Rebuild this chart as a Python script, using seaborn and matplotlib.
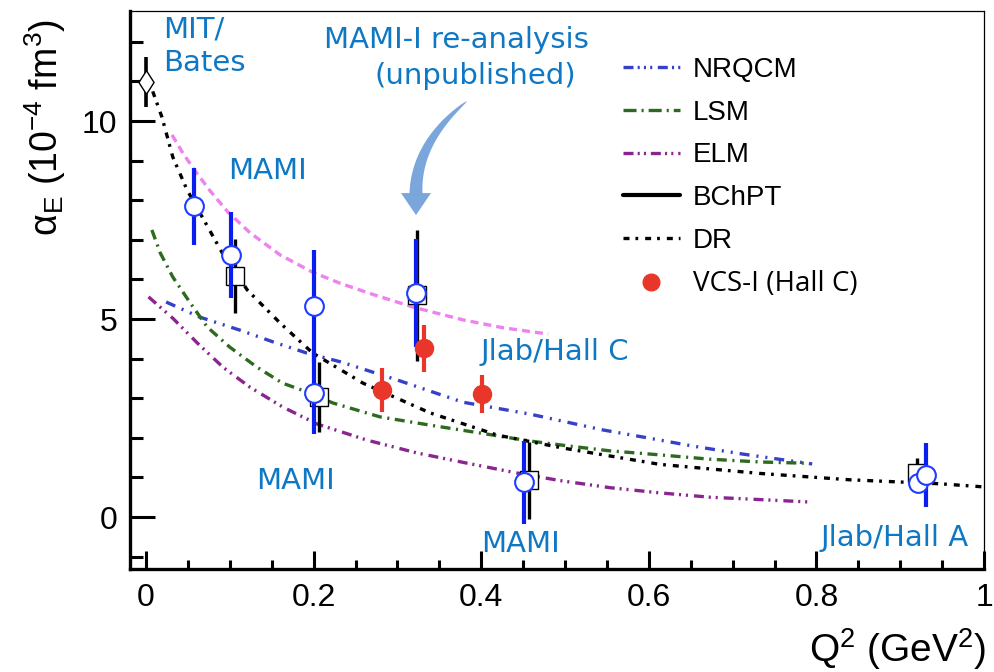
import matplotlib
matplotlib.use("Agg")
import numpy as np
import matplotlib.pyplot as plt
from matplotlib.lines import Line2D
from matplotlib.patches import Polygon
from matplotlib.ticker import MultipleLocator, FixedLocator, FixedFormatter
import seaborn as sns

# ---------------- data ----------------
# theory curves (Q^2 in GeV^2, alpha_E in 1e-4 fm^3)
nrqcm_q2 = [0.024, 0.064, 0.112, 0.152, 0.192, 0.232, 0.300, 0.378, 0.458, 0.545, 0.593, 0.653, 0.712, 0.772, 0.795]
nrqcm_a = [5.43, 5.05, 4.72, 4.42, 4.14, 3.92, 3.46, 2.90, 2.60, 2.20, 2.02, 1.79, 1.59, 1.41, 1.34]

lsm_q2 = [0.007, 0.017, 0.032, 0.053, 0.073, 0.100, 0.132, 0.163, 0.192, 0.223, 0.279, 0.339, 0.399, 0.458, 0.502, 0.554, 0.613, 0.673, 0.733, 0.785]
lsm_a = [7.25, 6.67, 6.06, 5.40, 4.80, 4.29, 3.79, 3.38, 3.16, 2.88, 2.53, 2.32, 2.12, 1.92, 1.80, 1.67, 1.57, 1.46, 1.39, 1.36]

elm_q2 = [0.003, 0.032, 0.061, 0.092, 0.124, 0.163, 0.204, 0.264, 0.323, 0.383, 0.443, 0.494, 0.554, 0.613, 0.673, 0.733, 0.791]
elm_a = [5.56, 5.02, 4.40, 3.78, 3.28, 2.78, 2.35, 1.94, 1.62, 1.36, 1.11, 0.92, 0.74, 0.61, 0.50, 0.44, 0.38]

dr_q2 = [0.008, 0.019, 0.032, 0.049, 0.067, 0.091, 0.121, 0.160, 0.199, 0.259, 0.339, 0.419, 0.498, 0.613, 0.733, 0.840, 0.947, 1.0]
dr_a = [10.75, 10.10, 9.09, 8.26, 7.58, 6.67, 5.73, 4.90, 4.14, 3.38, 2.63, 2.07, 1.74, 1.33, 1.10, 0.94, 0.84, 0.76]

pink_q2 = [0.031, 0.044, 0.058, 0.076, 0.097, 0.124, 0.160, 0.199, 0.232, 0.271, 0.319, 0.378, 0.426, 0.480]
pink_a = [9.65, 9.19, 8.76, 8.25, 7.72, 7.18, 6.62, 6.18, 5.90, 5.62, 5.30, 4.98, 4.78, 4.62]

# data points
rcs_q2 = [0.0]
rcs_a = [10.98]
rcs_err = [0.63]

mami_sq_q2 = [0.106, 0.206, 0.323, 0.457, 0.920]
mami_sq_a = [6.08, 3.03, 5.60, 0.93, 1.11]
mami_sq_err = [0.94, 0.88, 1.65, 0.97, 0.38]

circ_q2 = [0.057, 0.101, 0.200, 0.200, 0.322, 0.451, 0.921, 0.931]
circ_a = [7.85, 6.62, 5.33, 3.13, 5.65, 0.88, 0.86, 1.06]
circ_err = [0.97, 1.08, 1.41, 1.03, 1.36, 1.05, 0.0, 0.80]

vcs_q2 = [0.282, 0.332, 0.401]
vcs_a = [3.21, 4.26, 3.11]
vcs_err = [0.55, 0.60, 0.48]

legend_labels = ["NRQCM", "LSM", "ELM", "BChPT", "DR", "VCS-I (Hall C)"]
xtick_vals = [0, 0.2, 0.4, 0.6, 0.8, 1.0]
xtick_labels = ["0", "0.2", "0.4", "0.6", "0.8", "1"]
ytick_vals = [0, 5, 10]
ytick_labels = ["0", "5", "10"]

# ---------------- style ----------------
sns.set_style("ticks")
SANS = ["Liberation Sans", "DejaVu Sans"]
plt.rcParams["font.family"] = SANS
plt.rcParams["mathtext.default"] = "regular"
plt.rcParams["lines.scale_dashes"] = False
plt.rcParams["text.color"] = "black"

C_NRQCM = "#3640c8"
C_LSM = "#2e6a1e"
C_ELM = "#8a2590"
C_PINK = "#ee82ee"
C_RED = "#e8372a"
C_BLUEPT = "#0a1ef0"
C_ANN = "#0f78c4"

LS_NRQCM = (0, (7.2, 5.0, 1.5, 5.0, 1.5, 5.0))
LS_LSM = (0, (7.2, 4.0, 1.5, 4.0))
LS_ELM = (0, (7.2, 3.5, 1.5, 3.5, 1.5, 4.3))
LS_DR = (0, (4.3, 4.3, 2.0, 5.0))
LS_PINK = (0, (5.8, 3.6))
LW = 2.4

W, H = 994, 672
fig = plt.figure(figsize=(W / 100, H / 100), dpi=100)
ax = fig.add_axes([130 / W, 1 - 569 / H, (984 - 130) / W, (569 - 11) / H])

# ---------------- curves ----------------
sns.lineplot(x=pink_q2, y=pink_a, ax=ax, color=C_PINK, lw=LW, linestyle=LS_PINK, sort=False, estimator=None)
sns.lineplot(x=nrqcm_q2, y=nrqcm_a, ax=ax, color=C_NRQCM, lw=LW, linestyle=LS_NRQCM, sort=False, estimator=None)
sns.lineplot(x=lsm_q2, y=lsm_a, ax=ax, color=C_LSM, lw=LW, linestyle=LS_LSM, sort=False, estimator=None)
sns.lineplot(x=elm_q2, y=elm_a, ax=ax, color=C_ELM, lw=LW, linestyle=LS_ELM, sort=False, estimator=None)
sns.lineplot(x=dr_q2, y=dr_a, ax=ax, color="black", lw=LW, linestyle=LS_DR, sort=False, estimator=None)

# ---------------- points ----------------
diamond = [(-0.32, 0), (0, 0.5), (0.32, 0), (0, -0.5), (-0.32, 0)]
ax.errorbar(rcs_q2, rcs_a, yerr=rcs_err, fmt="none", ecolor="black", elinewidth=2.6, capsize=0, zorder=3)
ax.plot(rcs_q2, rcs_a, ls="none", marker=diamond, ms=17, mfc="white", mec="black", mew=1.0, zorder=4)

ax.errorbar(mami_sq_q2, mami_sq_a, yerr=mami_sq_err, fmt="s", ms=13, mfc="white", mec="black",
            mew=1.0, ecolor="black", elinewidth=2.4, capsize=0, zorder=3)
ax.errorbar(circ_q2, circ_a, yerr=circ_err, fmt="o", ms=13.5, mfc="white", mec="#1f3cff",
            mew=1.5, ecolor=C_BLUEPT, elinewidth=3.0, capsize=0, zorder=5)
ax.errorbar(vcs_q2, vcs_a, yerr=vcs_err, fmt="o", ms=13, color=C_RED, mec=C_RED,
            elinewidth=3.0, capsize=0, zorder=6)

# ---------------- axes ----------------
ax.set_xlim(-0.0191, 1.0)
ax.set_ylim(-1.313, 12.78)
ax.xaxis.set_major_locator(FixedLocator(xtick_vals))
ax.xaxis.set_major_formatter(FixedFormatter(xtick_labels))
ax.xaxis.set_minor_locator(MultipleLocator(0.05))
ax.yaxis.set_major_locator(FixedLocator(ytick_vals))
ax.yaxis.set_major_formatter(FixedFormatter(ytick_labels))
ax.yaxis.set_minor_locator(MultipleLocator(1))
ax.tick_params(axis="y", which="major", direction="in", length=18, width=2.2, labelsize=23, pad=9,
               color="black", labelcolor="black")
ax.tick_params(axis="y", which="minor", direction="in", length=9.4, width=2.2, color="black")
ax.tick_params(axis="x", which="major", direction="in", length=13, width=2.2, labelsize=23, pad=10,
               color="black", labelcolor="black")
ax.tick_params(axis="x", which="minor", direction="in", length=6.5, width=2.2, color="black")
for s in ("left", "bottom"):
    ax.spines[s].set_linewidth(2.4)
    ax.spines[s].set_color("black")
for s in ("top", "right"):
    ax.spines[s].set_linewidth(0.9)
    ax.spines[s].set_color("black")
ax.set_xlabel("")
ax.set_ylabel("")

fig.text(45 / W, 1 - 128 / H, r"$\alpha_{E}$ (10$^{-4}$ fm$^{3}$)", rotation=90, ha="center", va="center",
         fontsize=27, family=SANS, color="black")
fig.text(986 / W, 1 - 662 / H, r"Q$^{2}$ (GeV$^{2}$)", ha="right", va="baseline", fontsize=28,
         family=SANS, color="black")

# ---------------- annotations ----------------
def px2d(px, py):
    return (px - 146) / 838.0, (517 - py) / 39.6

ann = dict(color=C_ANN, fontsize=21, family=["DejaVu Sans"])
for txt, (px, py), ha in [("MIT/", (163, 29), "left"), ("Bates", (163, 63), "left"),
                          ("MAMI", (267, 171), "center"),
                          ("MAMI-I re-analysis", (456, 40), "center"),
                          ("(unpublished)", (475, 76), "center"),
                          ("Jlab/Hall C", (555, 352), "center"),
                          ("MAMI", (295, 481), "center"),
                          ("MAMI", (520, 544), "center"),
                          ("Jlab/Hall A", (895, 538), "center")]:
    x, y = px2d(px, py)
    ax.text(x, y, txt, ha=ha, va="center", **ann)

# curved, tapering arrow (annotation shape, built in pixel space)
T = np.array([467.0, 101.0])
Cc = np.array([416.0, 142.0])
B = np.array([416.0, 193.0])
tip = np.array([416.0, 215.0])
t = np.linspace(0, 1, 50)
P = ((1 - t) ** 2)[:, None] * T + (2 * (1 - t) * t)[:, None] * Cc + (t ** 2)[:, None] * B
D = (2 * (1 - t))[:, None] * (Cc - T) + (2 * t)[:, None] * (B - Cc)
Nn = np.stack([-D[:, 1], D[:, 0]], 1)
Nn /= np.linalg.norm(Nn, axis=1)[:, None]
hw = 6.5 * t ** 0.6
left = P + Nn * hw[:, None]
right = P - Nn * hw[:, None]
poly_px = np.vstack([left, [B + np.array([-15.0, 0.0]), tip, B + np.array([15.0, 0.0])], right[::-1]])
poly_d = np.array([px2d(px, py) for px, py in poly_px])
ax.add_patch(Polygon(poly_d, closed=True, facecolor="#7aa6dc", edgecolor="none", zorder=7))

# ---------------- legend ----------------
handles = [
    Line2D([], [], color=C_NRQCM, lw=LW, linestyle=(0, (7.2, 3.0, 1.5, 3.0, 1.5, 3.0, 1.5, 4.0))),
    Line2D([], [], color=C_LSM, lw=LW, linestyle=(0, (9.4, 3.6, 1.5, 3.6))),
    Line2D([], [], color=C_ELM, lw=LW, linestyle=(0, (7.2, 3.0, 1.5, 3.0, 1.5, 3.5))),
    Line2D([], [], color="black", lw=3.0),
    Line2D([], [], color="black", lw=LW, linestyle=LS_DR),
    Line2D([], [], color=C_RED, ls="none", marker="o", ms=12),
]
leg = ax.legend(handles, legend_labels, loc="upper left", bbox_to_anchor=(623 / W, 1 - 57 / H),
                bbox_transform=fig.transFigure, frameon=False,
                prop={"family": SANS, "size": 20},
                handlelength=2.05, handletextpad=0.47, labelspacing=0.6, borderpad=0, borderaxespad=0)
for tx in leg.get_texts():
    tx.set_color("black")
leg.get_texts()[-1].set_fontfamily(["Open Sans", "DejaVu Sans"])
leg.get_texts()[-1].set_fontsize(20)

fig.savefig("out.png", dpi=100)
